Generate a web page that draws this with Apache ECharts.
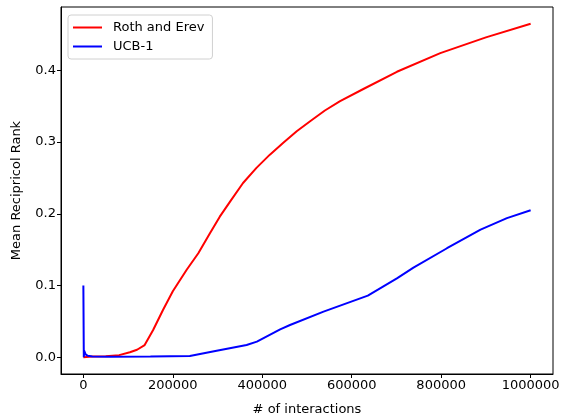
<!DOCTYPE html>
<html>
<head>
<meta charset="utf-8">
<script src="https://cdn.jsdelivr.net/npm/echarts@6/dist/echarts.min.js"></script>
<style>
  html, body { margin: 0; padding: 0; background: #fff; }
  #chart { width: 563px; height: 416px; }
</style>
</head>
<body>
<div id="chart"></div>
<script>
// Roth and Erev
const rothX = [0, 20000, 50000, 80000, 104000, 120000, 137000, 141000, 156000, 178000, 200000, 231000, 257000, 283000, 305000, 328000, 357000, 387000, 417000, 447000, 477000, 507000, 540000, 574000, 626000, 701000, 798000, 900000, 1000000];
const rothY = [0, 0.001, 0.0015, 0.003, 0.007, 0.0105, 0.017, 0.0195, 0.038, 0.066, 0.092, 0.122, 0.145, 0.173, 0.196, 0.217, 0.243, 0.264, 0.2825, 0.299, 0.315, 0.329, 0.344, 0.357, 0.374, 0.398, 0.424, 0.446, 0.465];

// UCB-1
const ucbX = [0, 1000, 2000, 5000, 10000, 20000, 60000, 150000, 238000, 298000, 365000, 388000, 440000, 462000, 537000, 636000, 701000, 738000, 813000, 888000, 947000, 1000000];
const ucbY = [0.1, 0.0, 0.009, 0.004, 0.002, 0.001, 0.0008, 0.001, 0.0018, 0.0092, 0.0172, 0.0218, 0.039, 0.045, 0.0637, 0.086, 0.110, 0.125, 0.152, 0.178, 0.194, 0.205];

const xTicks = [0, 200000, 400000, 600000, 800000, 1000000];
const yTicks = [0, 0.1, 0.2, 0.3, 0.4];

const pair = (xs, ys) => xs.map((x, i) => [x, ys[i]]);
const font = 'DejaVu Sans';

const chart = echarts.init(document.getElementById('chart'));
chart.setOption({
  animation: false,
  textStyle: { fontFamily: font },
  grid: {
    left: 61, top: 7, right: 10, bottom: 42,
    outerBoundsMode: 'none', containLabel: false,
    show: true, borderColor: '#000', borderWidth: 1
  },
  legend: {
    orient: 'vertical',
    left: 68, top: 15,
    padding: [6, 8, 6, 5],
    itemGap: 6,
    itemWidth: 29, itemHeight: 2,
    icon: 'rect',
    borderColor: '#d0d0d0', borderWidth: 1, borderRadius: 3,
    backgroundColor: '#fff',
    textStyle: { fontFamily: font, fontSize: 13, color: '#000', padding: [0, 0, 0, 6] },
    data: ['Roth and Erev', 'UCB-1']
  },
  xAxis: {
    type: 'value',
    min: -50000, max: 1050000,
    name: '# of interactions',
    nameLocation: 'middle', nameGap: 29,
    nameTextStyle: { fontFamily: font, fontSize: 13, color: '#000' },
    splitLine: { show: false },
    axisLine: { show: true, onZero: false, lineStyle: { color: '#000', width: 1 } },
    axisTick: { show: true, inside: false, length: 4, customValues: xTicks, lineStyle: { color: '#000' } },
    axisLabel: { customValues: xTicks, fontFamily: font, fontSize: 13, color: '#000', margin: 5, formatter: v => String(v) }
  },
  yAxis: {
    type: 'value',
    min: -0.0233, max: 0.4883,
    name: 'Mean Recipricol Rank',
    nameLocation: 'middle', nameGap: 38, nameRotate: 90,
    nameTextStyle: { fontFamily: font, fontSize: 13, color: '#000' },
    splitLine: { show: false },
    axisLine: { show: true, onZero: false, lineStyle: { color: '#000', width: 1 } },
    axisTick: { show: true, inside: false, length: 4, customValues: yTicks, lineStyle: { color: '#000' } },
    axisLabel: { customValues: yTicks, fontFamily: font, fontSize: 13, color: '#000', margin: 5, formatter: v => v.toFixed(1) }
  },
  series: [
    {
      name: 'Roth and Erev', type: 'line', data: pair(rothX, rothY),
      showSymbol: false, symbol: 'none', smooth: false,
      lineStyle: { color: '#ff0000', width: 2 }, itemStyle: { color: '#ff0000' }
    },
    {
      name: 'UCB-1', type: 'line', data: pair(ucbX, ucbY),
      showSymbol: false, symbol: 'none', smooth: false,
      lineStyle: { color: '#0000ff', width: 2 }, itemStyle: { color: '#0000ff' }
    }
  ]
});
</script>
</body>
</html>
